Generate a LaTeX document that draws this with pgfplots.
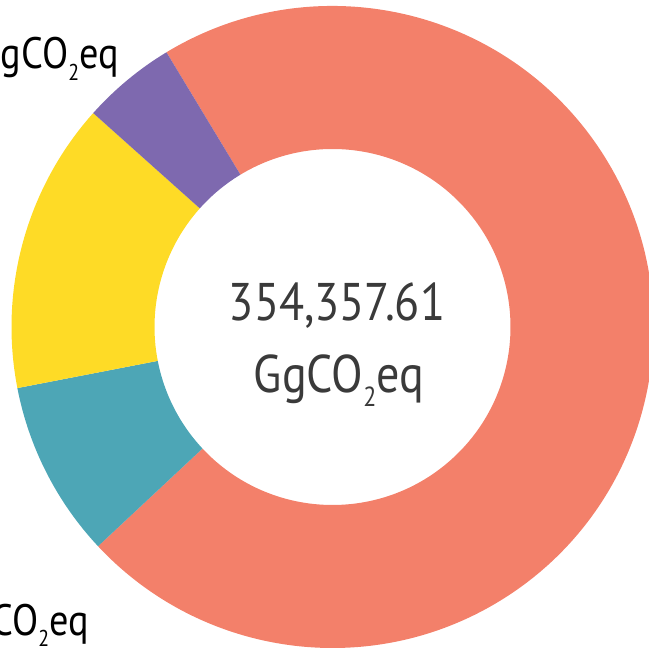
\documentclass[border=0pt]{standalone}
\usepackage{fontspec}
\setmainfont{PT Sans}
\usepackage{graphicx}
\usepackage{pgfplots}
\pgfplotsset{compat=1.18}

\definecolor{energy}{HTML}{F3806A}
\definecolor{waste}{HTML}{4DA6B6}
\definecolor{agri}{HTML}{FEDB26}
\definecolor{ippu}{HTML}{7E69AF}
\definecolor{centretext}{HTML}{3A3A3A}

% slice values, GgCO2eq (clockwise from the salmon slice)
\def\vA{254030}
\def\vB{31600}
\def\vC{51940}
\def\vD{16790}
\edef\vT{\fpeval{\vA+\vB+\vC+\vD}}

\newcommand\sub[1]{\raisebox{-0.26em}{\scalebox{0.52}{#1}}}
\newcommand\narrow[1]{\scalebox{0.87}[1]{#1}}

\begin{document}
\begin{tikzpicture}
  \edef\aA{121.15}
  \edef\aB{\fpeval{\aA-\vA/\vT*360}}
  \edef\aC{\fpeval{\aB-\vB/\vT*360}}
  \edef\aD{\fpeval{\aC-\vC/\vT*360}}
  \edef\aE{\fpeval{\aD-\vD/\vT*360}}
  \newcommand\slice[3]{%
    \fill[#3] (axis cs:332.5,322) ++(#1:321bp)
      arc[start angle=#1, end angle=#2, radius=321bp]
      -- ++(#2:-143bp)
      arc[start angle=#2, end angle=#1, radius=178bp] -- cycle;}
  \begin{axis}[
    at={(0,0)}, anchor=south west,
    scale only axis, width=649bp, height=649bp,
    xmin=0, xmax=649, ymin=0, ymax=649,
    hide axis,
  ]
    \slice{\aA}{\aB}{energy}
    \slice{\aB}{\aC}{waste}
    \slice{\aC}{\aD}{agri}
    \slice{\aD}{\aE}{ippu}

    \node[anchor=base, text=centretext, font=\fontsize{53bp}{60bp}\selectfont]
      at (axis cs:337,328) {\narrow{354,357.61}};
    \node[anchor=base, text=centretext, font=\fontsize{53bp}{60bp}\selectfont]
      at (axis cs:339,256) {\narrow{GgCO\sub{2}eq}};

    \node[anchor=base east, text=black, font=\fontsize{44bp}{50bp}\selectfont, inner sep=0pt]
      at (axis cs:119,580) {\narrow{16,790.00 GgCO\sub{2}eq}};
    \node[anchor=base east, text=black, font=\fontsize{44bp}{50bp}\selectfont, inner sep=0pt]
      at (axis cs:89,14) {\narrow{31,600.00 GgCO\sub{2}eq}};
  \end{axis}
  \pgfresetboundingbox
  \useasboundingbox (0,0) rectangle (649bp,649bp);
\end{tikzpicture}
\end{document}
